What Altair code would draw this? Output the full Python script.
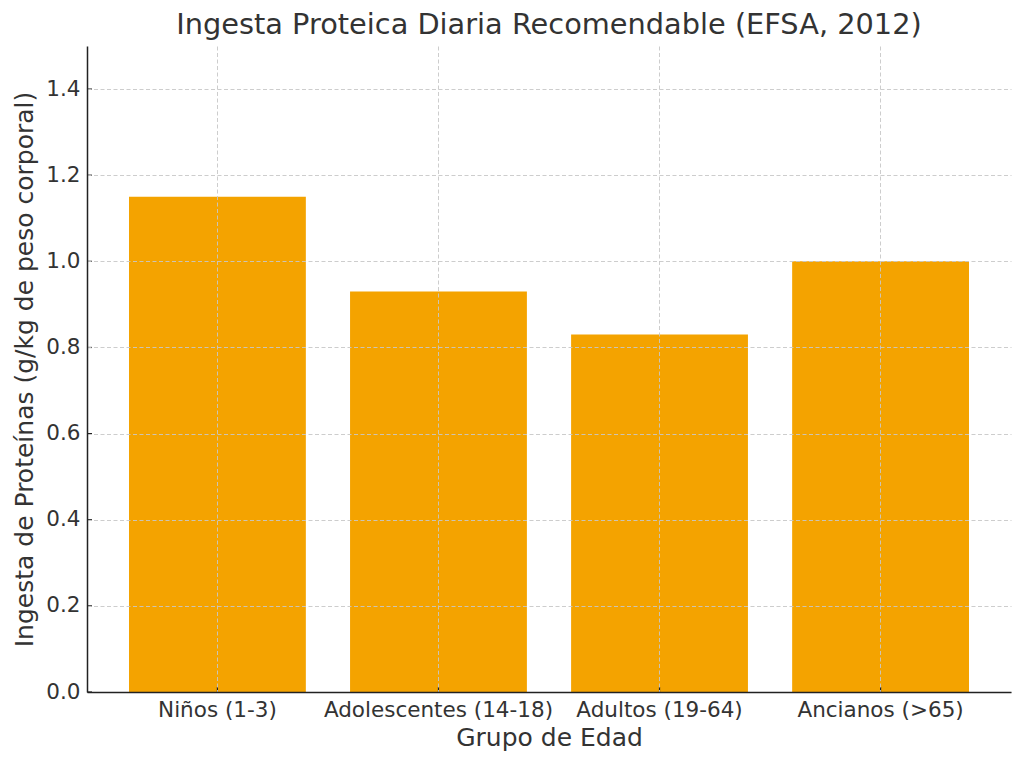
import altair as alt
import pandas as pd

categorias = ["Niños (1-3)", "Adolescentes (14-18)", "Adultos (19-64)", "Ancianos (>65)"]
valores = [1.15, 0.93, 0.83, 1.00]
y_ticks = [0.0, 0.2, 0.4, 0.6, 0.8, 1.0, 1.2, 1.4]

df = pd.DataFrame({"grupo": categorias, "valor": valores})
df_ticks = pd.DataFrame({"t": y_ticks})

W, H = 924, 646
FONT = "DejaVu Sans"
TXT = "#333333"

x_scale = alt.Scale(domain=categorias, paddingInner=0.2, paddingOuter=0.19)
y_scale = alt.Scale(domain=[0, 1.5], nice=False, zero=True)

bars = alt.Chart(df).mark_bar(color="#f4a300").encode(
    x=alt.X("grupo:N", scale=x_scale, sort=categorias,
            axis=alt.Axis(title="Grupo de Edad", labelAngle=0, grid=True, zindex=1,
                          ticks=False, labelPadding=7, titlePadding=5, labelLimit=0)),
    y=alt.Y("valor:Q", scale=y_scale,
            axis=alt.Axis(title="Ingesta de Proteínas (g/kg de peso corporal)", values=y_ticks,
                          format=".1f", grid=True, zindex=1, ticks=False,
                          labelPadding=7, titlePadding=8)),
)

yticks = alt.Chart(df_ticks).mark_rule(color="#222222", strokeWidth=1.2).encode(
    y=alt.Y("t:Q", scale=y_scale),
    x=alt.value(0), x2=alt.value(5),
)

xticks = alt.Chart(df).mark_rule(color="#222222", strokeWidth=1.2).encode(
    x=alt.X("grupo:N", scale=x_scale, sort=categorias, bandPosition=0.5),
    y=alt.value(H - 5), y2=alt.value(H),
)

chart = alt.layer(bars, yticks, xticks).properties(
    width=W, height=H,
    background="white",
    title=alt.TitleParams("Ingesta Proteica Diaria Recomendable (EFSA, 2012)",
                          fontSize=28.8, font=FONT, fontWeight="normal", color=TXT,
                          anchor="middle", offset=6),
    autosize=alt.AutoSizeParams(type="none"),
    padding={"left": 79, "top": 38, "right": 5, "bottom": 60},
).configure_view(stroke=None).configure_axis(
    labelFont=FONT, titleFont=FONT, labelFontSize=21.5, titleFontSize=25,
    labelColor=TXT, titleColor=TXT, titleFontWeight="normal",
    domainColor="#222222", domainWidth=1.5,
    gridColor="#c8c8c8", gridDash=[4, 2.5], gridWidth=1, gridOpacity=0.9,
)

chart.save("out.html", embed_options={"renderer": "svg", "actions": False})
